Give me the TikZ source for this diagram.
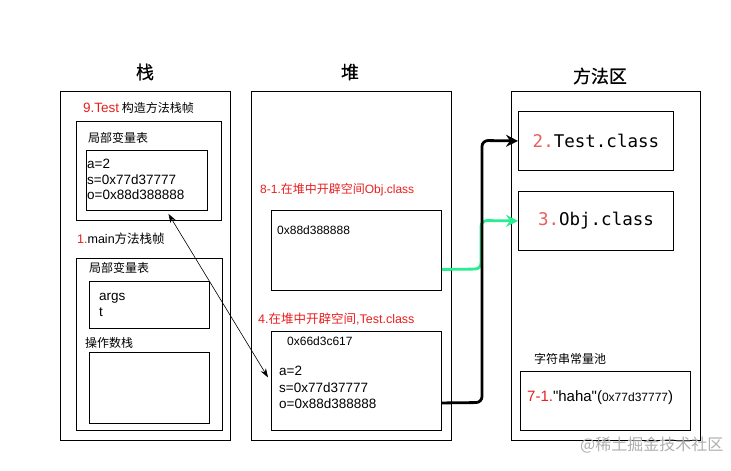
\documentclass[tikz,border=0pt]{standalone}
\usepackage{fontspec}
\setmainfont{Liberation Sans}
\setmonofont{DejaVu Sans Mono}
\newfontfamily\nomap{Liberation Sans}
\newfontfamily\cjk{Noto Sans CJK SC}
\newfontfamily\cjktitle[FakeBold=0.6]{Noto Sans CJK SC}
\usetikzlibrary{arrows.meta,calc}
\definecolor{myred}{RGB}{235,30,30}
\definecolor{lightred}{RGB}{232,95,95}
\definecolor{mygreen}{RGB}{40,238,145}
\definecolor{wm}{RGB}{175,175,175}
\newcommand{\fs}[1]{\fontsize{#1}{#1}\selectfont}
\begin{document}
\begin{tikzpicture}[x=1pt,y=-1pt,
  box/.style={draw, line width=0.9pt, inner sep=0, anchor=north west},
  lbl/.style={inner sep=0, anchor=west, text height=.72em, text depth=.2em},
  ttl/.style={inner sep=0, font=\cjktitle\fs{18}},
  thick arrow/.style={line width=2.8pt, rounded corners=6pt, -{Stealth[length=12pt,width=12pt,inset=4pt]}}]
\useasboundingbox (0,0) rectangle (731,471);
\fill[white] (0,0) rectangle (731,471);

% titles
\node[ttl] (tstack) at (145,72) {栈};
\node[ttl] (theap) at (350,72) {堆};
\node[ttl] (tmeth) at (600,76) {方法区};

% stack
\node[box, minimum width=170, minimum height=349] (stack) at (60,91) {};
\node[lbl] (l9) at (83,110) {\textcolor{myred}{\fs{13.5}9.Test} {\cjk\fs{12}构造方法栈帧}};
\node[box, minimum width=145, minimum height=99] (frame9) at (76,121) {};
\node[lbl] (lv1) at (88,140) {\cjk\fs{12}局部变量表};
\node[box, minimum width=121, minimum height=60] (vars9) at (86,150) {};
\node[lbl] (a1) at (87,166) {\fs{13.5}a=2};
\node[lbl] (s1) at (87,181.5) {\fs{13.5}s=0x77d37777};
\node[lbl] (o1) at (87,197) {\fs{13.5}o=0x88d388888};
\node[lbl] (l1) at (77,241) {\fs{12.5}\textcolor{myred}{1.}main{\cjk 方法栈帧}};
\node[box, minimum width=146, minimum height=172] (frame1) at (76,258) {};
\node[lbl] (lv2) at (89,270) {\cjk\fs{12}局部变量表};
\node[box, minimum width=120, minimum height=47] (vars1) at (89,281) {};
\node[lbl] (args) at (99,298) {\fs{13.5}args};
\node[lbl] (tt) at (99,314) {\fs{13.5}t};
\node[lbl] (ops) at (85,345) {\cjk\fs{12}操作数栈};
\node[box, minimum width=120, minimum height=71] (opstack) at (89,352) {};

% heap
\node[box, minimum width=200, minimum height=349] (heap) at (251,91) {};
\node[lbl] (l81) at (260,191) {\fs{12}\textcolor{myred}{8-1.{\cjk 在堆中开辟空间}Obj.class}};
\node[box, minimum width=170, minimum height=80] (objheap) at (271,210) {};
\node[lbl] (addr1) at (277,232) {\fs{12}0x88d388888};
\node[lbl] (l4) at (258,321) {\fs{12.5}\textcolor{myred}{4.{\cjk 在堆中开辟空间},Test.class}};
\node[box, minimum width=170, minimum height=99] (testheap) at (271,331) {};
\node[lbl] (addr2) at (287,343) {\fs{12}0x66d3c617};
\node[lbl] (a2) at (279,373) {\fs{13.5}a=2};
\node[lbl] (s2) at (279,389.5) {\fs{13.5}s=0x77d37777};
\node[lbl] (o2) at (279,406) {\fs{13.5}o=0x88d388888};

% method area
\node[box, minimum width=189, minimum height=349] (meth) at (511,91) {};
\node[box, minimum width=155, minimum height=59] (testclass) at (518,111) {};
\node[inner sep=0] (tc) at (testclass.center) {\ttfamily\fs{17.5}\textcolor{lightred}{2.}Test.class};
\node[box, minimum width=155, minimum height=59] (objclass) at (518,191) {};
\node[inner sep=0] (oc) at (objclass.center) {\ttfamily\fs{17.5}\textcolor{lightred}{3.}Obj.class};
\node[lbl] (pooll) at (534,361) {\cjk\fs{12}字符串常量池};
\node[box, minimum width=170, minimum height=59] (pool) at (520,371) {};
\node[lbl] (haha) at (527,399) {\nomap\fs{15}\textcolor{myred}{7-1.}"haha"({\fs{12}0x77d37777})};

% connectors
\coordinate (p1) at ($(vars9.south)+(21.5,3)$);
\coordinate (p2) at ($(testheap.west)+(-3,-3.5)$);
\draw[line width=0.6pt, {Stealth[length=9pt,width=6pt]}-{Stealth[length=9pt,width=6pt]}] (p1) -- (p2);

\coordinate (g0) at ($(objheap.east)+(0,19)$);
\draw[mygreen, thick arrow] (g0) -- (481,269) -- (481,220.5) -- (objclass.west);
\coordinate (b0) at ($(testheap.east)+(0,22)$);
\draw[black, thick arrow] (b0) -- (482,402.5) -- (482,140.5) -- (testclass.west);

% watermark
\node[lbl, text=wm] (wmark) at (580,448) {\cjk\fs{16}@稀土掘金技术社区};
\end{tikzpicture}
\end{document}
